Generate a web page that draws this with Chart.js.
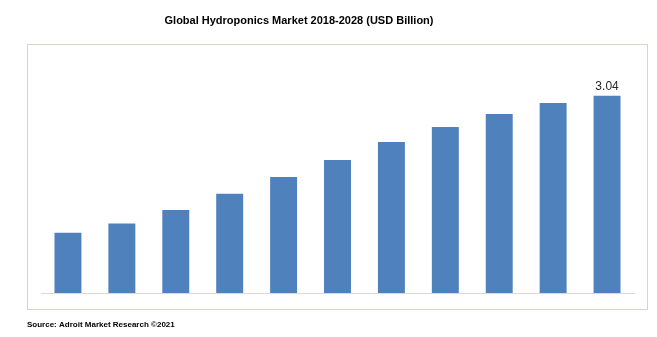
<!DOCTYPE html>
<html>
<head>
<meta charset="utf-8">
<script src="https://cdn.jsdelivr.net/npm/chart.js@4"></script>
<style>
  html, body { margin: 0; padding: 0; background: #fff; }
  #wrap { width: 657px; height: 337px; }
</style>
</head>
<body>
<div id="wrap"><canvas id="chart" width="657" height="337"></canvas></div>
<script>
const years = ['2018', '2019', '2020', '2021', '2022', '2023', '2024', '2025', '2026', '2027', '2028']
const marketSize = [0.93, 1.07, 1.28, 1.53, 1.79, 2.05, 2.33, 2.56, 2.76, 2.93, 3.04]
const shownLabel = '3.04'

const chartTitle = 'Global Hydroponics Market 2018-2028 (USD Billion)'
const sourceText = 'Source: Adroit Market Research \u00A92021'

// frame, title, source and the single value label
const decorations = {
  id: 'decorations',
  beforeDraw(chart) {
    const ctx = chart.ctx
    ctx.save()
    ctx.fillStyle = '#fff'
    ctx.fillRect(0, 0, chart.width, chart.height)
    ctx.strokeStyle = '#d9d5c3'
    ctx.lineWidth = 1
    ctx.strokeRect(27.5, 44.5, 620, 265)
    ctx.restore()
  },
  afterDraw(chart) {
    const ctx = chart.ctx
    ctx.save()
    ctx.fillStyle = '#000'
    ctx.textAlign = 'center'
    ctx.textBaseline = 'alphabetic'
    ctx.font = 'bold 11px "Liberation Sans", Arial, sans-serif'
    ctx.fillText(chartTitle, 299, 24)

    ctx.textAlign = 'left'
    ctx.font = 'bold 8px "Liberation Sans", Arial, sans-serif'
    ctx.fillText(sourceText, 27, 327)

    const meta = chart.getDatasetMeta(0)
    const last = meta.data[meta.data.length - 1]
    ctx.textAlign = 'center'
    ctx.fillStyle = '#262626'
    ctx.font = '12px "Liberation Sans", Arial, sans-serif'
    ctx.fillText(shownLabel, last.x, last.y - 6)
    ctx.restore()
  }
}

const ctx = document.getElementById('chart').getContext('2d')
const chart = new Chart(ctx, {
  type: 'bar',
  data: {
    labels: years,
    datasets: [{
      data: marketSize,
      backgroundColor: '#4f81bd',
      barPercentage: 0.5,
      categoryPercentage: 1
    }]
  },
  options: {
    responsive: false,
    animation: false,
    layout: { padding: { left: 41, right: 23, top: 66, bottom: 44 } },
    plugins: {
      legend: { display: false },
      tooltip: { enabled: false },
      title: { display: false }
    },
    scales: {
      x: {
        display: true,
        grid: { display: false, drawTicks: false },
        ticks: { display: false },
        border: { display: true, color: '#d9d9d9', width: 1 }
      },
      y: {
        display: false,
        min: 0,
        max: 3.5
      }
    }
  },
  plugins: [decorations]
})
</script>
</body>
</html>
